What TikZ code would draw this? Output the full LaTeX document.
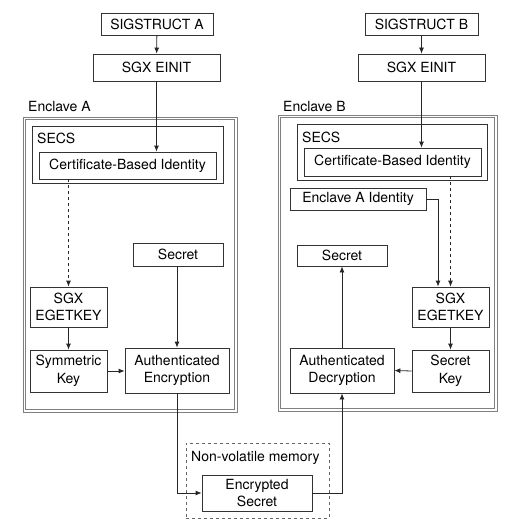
\documentclass[tikz,border=0pt]{standalone}
\usepackage{fontspec}
\setmainfont{TeX Gyre Heros}
\usetikzlibrary{arrows.meta}
\begin{document}
\begin{tikzpicture}[x=1pt,y=-1pt,
  font=\fontsize{14}{17.5}\selectfont,
  box/.style={draw=black!80, line width=0.8pt, inner sep=0pt, align=center, fill=white},
  encl/.style={draw=black!50, line width=0.8pt, inner sep=0pt},
  mem/.style={draw=black!60, dashed, line width=0.7pt, inner sep=0pt},
  lbl/.style={anchor=base west, inner sep=0pt},
  arr/.style={draw=black!85, line width=0.8pt, -{Latex[length=6pt,width=5pt]}},
  darr/.style={arr, dashed}
]
\useasboundingbox (0,0) rectangle (504,524);

% containers
\node[encl, minimum width=214pt, minimum height=295pt] (enclA) at (130,264.5) {};
\draw[encl] ([shift={(3pt,-3pt)}]enclA.north west) rectangle ([shift={(-3pt,3pt)}]enclA.south east);
\node[encl, minimum width=219pt, minimum height=296pt] (enclB) at (387.5,263) {};
\draw[encl] ([shift={(3pt,-3pt)}]enclB.north west) rectangle ([shift={(-3pt,3pt)}]enclB.south east);
\node[lbl] (enclAlbl) at (28,112) {Enclave A};
\node[lbl] (enclBlbl) at (283,111) {Enclave B};
\node[mem, minimum width=143pt, minimum height=75pt] (nvm) at (257.5,480.5) {};
\node[lbl] (nvmlbl) at (191,461) {Non-volatile memory};

% Enclave A
\node[box, minimum width=112pt, minimum height=22pt] (sigA) at (157,24) {SIGSTRUCT A};
\node[box, minimum width=127pt, minimum height=27pt] (einitA) at (156.5,67.5) {SGX EINIT};
\node[box, minimum width=191pt, minimum height=57pt] (secsA) at (127.5,154.5) {};
\node[lbl] (secsAlbl) at (37,143) {SECS};
\node[box, minimum width=177pt, minimum height=27pt] (certA) at (127.5,165.5) {Certificate-Based Identity};
\node[box, minimum width=90pt, minimum height=23pt] (secretA) at (178,254.5) {Secret};
\node[box, minimum width=77pt, minimum height=40pt] (egetA) at (68.5,307) {SGX\\EGETKEY};
\node[box, minimum width=77pt, minimum height=42pt] (symA) at (68.5,371) {Symmetric\\Key};
\node[box, minimum width=104pt, minimum height=45pt] (encA) at (177,370.5) {Authenticated\\Encryption};

% memory
\node[box, minimum width=110pt, minimum height=36pt] (encS) at (257,493) {Encrypted\\Secret};

% Enclave B
\node[box, minimum width=113pt, minimum height=22pt] (sigB) at (421.5,24) {SIGSTRUCT B};
\node[box, minimum width=127pt, minimum height=27pt] (einitB) at (421.5,67.5) {SGX EINIT};
\node[box, minimum width=190pt, minimum height=56pt] (secsB) at (392,152) {};
\node[lbl] (secsBlbl) at (302,142) {SECS};
\node[box, minimum width=177pt, minimum height=28pt] (certB) at (392.5,162) {Certificate-Based Identity};
\node[box, minimum width=136pt, minimum height=22pt] (encAid) at (358,199) {Enclave A Identity};
\node[box, minimum width=90pt, minimum height=21pt] (secretB) at (342,255.5) {Secret};
\node[box, minimum width=77pt, minimum height=40pt] (egetB) at (450.5,307) {SGX\\EGETKEY};
\node[box, minimum width=77pt, minimum height=42pt] (skB) at (450.5,371) {Secret\\Key};
\node[box, minimum width=104pt, minimum height=45pt] (decB) at (342,370.5) {Authenticated\\Decryption};

% connectors A
\draw[arr] (sigA) -- (einitA);
\draw[arr] (einitA.south) -- (einitA.south |- certA.north);
\draw[darr] (certA.south -| egetA.north) -- (egetA.north);
\draw[arr] (egetA) -- (symA);
\draw[arr] (symA) -- (symA -| encA.west);
\draw[arr] (secretA.south -| encA.north) -- (encA.north);
\draw[arr] (encA.south) |- (encS.west);

% connectors B
\draw[arr] (encS.east) -| (decB.south);
\draw[arr] (decB.north) -- (secretB.south);
\draw[arr] (skB.west) -- (decB.east);
\draw[arr] (egetB) -- (skB);
\draw[arr] (encAid.east) -| ([xshift=-12.5pt]egetB.north);
\draw[darr] (certB.south -| egetB.north) -- (egetB.north);
\draw[arr] (sigB) -- (einitB);
\draw[arr] (einitB.south) -- (einitB.south |- certB.north);
\end{tikzpicture}
\end{document}
